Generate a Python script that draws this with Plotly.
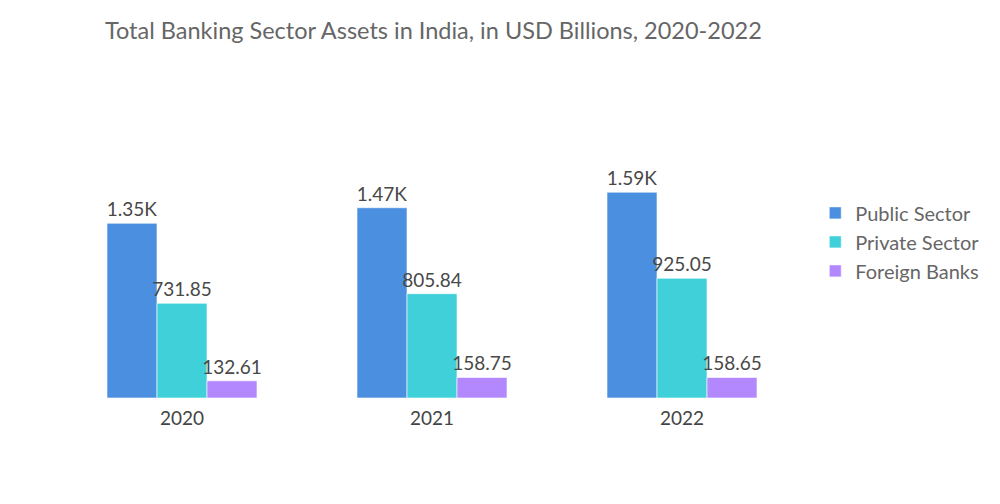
import plotly.graph_objects as go

years = ["2020", "2021", "2022"]
public_sector = [1350, 1470, 1590]
private_sector = [731.85, 805.84, 925.05]
foreign_banks = [132.61, 158.75, 158.65]

series = [
    ("Public Sector", public_sector, "#4a8fe0"),
    ("Private Sector", private_sector, "#3fd0da"),
    ("Foreign Banks", foreign_banks, "#b388ff"),
]


def fmt(v):
    return f"{v/1000:.2f}K" if v >= 1000 else f"{v:.2f}"


fig = go.Figure()
for name, vals, color in series:
    fig.add_trace(go.Bar(
        x=years, y=vals, name=name,
        marker=dict(color=color, line=dict(color="rgba(255,255,255,0.6)", width=1)),
        text=[fmt(v) for v in vals], textposition="outside",
        constraintext="none",
        textfont=dict(family="Lato", size=19, color="#484848"),
        cliponaxis=False,
    ))

fig.update_layout(
    width=1000, height=504,
    barmode="group", bargap=0.4, bargroupgap=0,
    plot_bgcolor="white", paper_bgcolor="white",
    margin=dict(l=49, r=201, t=157, b=114),
    title=dict(text="Total Banking Sector Assets in India, in USD Billions, 2020-2022",
               x=97/1000, xanchor="left", y=1 - 23/504, yanchor="middle",
               font=dict(family="Lato", size=23.5, color="#666666")),
    legend=dict(x=1.011, xanchor="left", y=0.67, yanchor="middle",
                font=dict(family="Lato", size=20, color="#666666"),
                itemwidth=30, tracegroupgap=0),
    xaxis=dict(showgrid=False, showline=False, ticks="", ticklabelstandoff=7,
               tickfont=dict(family="Lato", size=19, color="#444444")),
    yaxis=dict(visible=False, range=[0, 1800]),
    font=dict(family="Lato"),
)

fig.write_html("out.html")
